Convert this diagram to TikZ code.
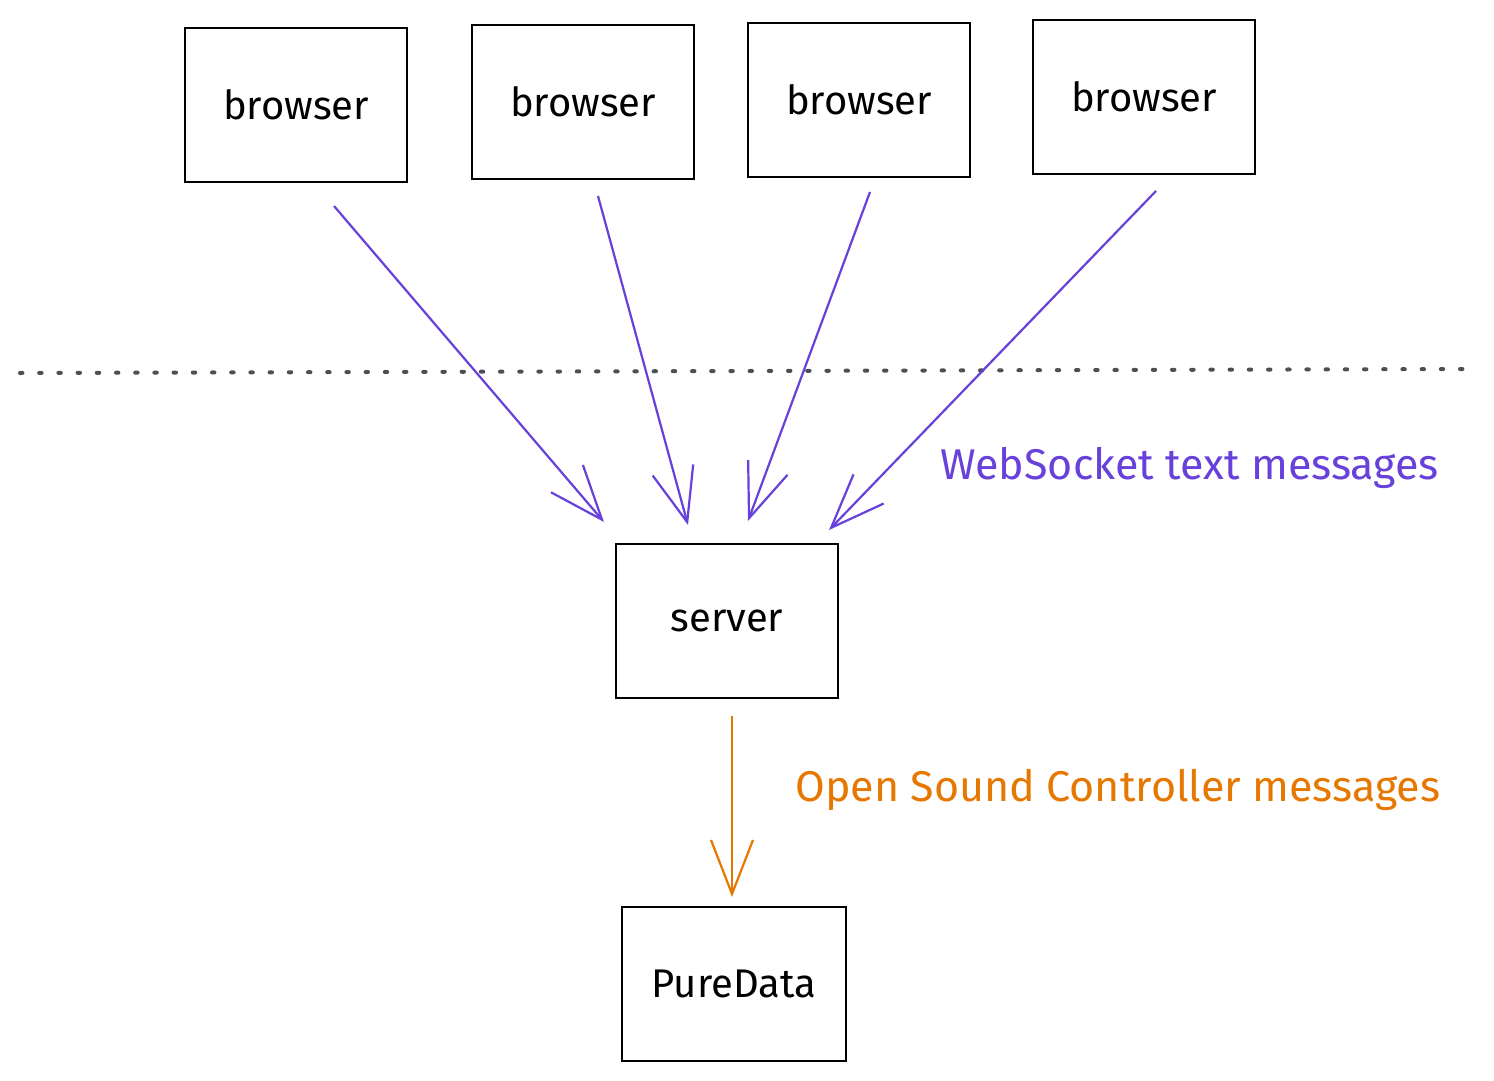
\documentclass[tikz,border=0pt]{standalone}
\usepackage{fontspec}
\setmainfont{Fira Sans}
\usetikzlibrary{arrows.meta}
\definecolor{violetx}{HTML}{6741D9}
\definecolor{orangex}{HTML}{E67700}
\definecolor{grayx}{HTML}{495057}
\begin{document}
\begin{tikzpicture}[x=0.5pt,y=-0.5pt,
  box/.style={draw=black,line width=1.2pt,minimum width=111pt,minimum height=77pt,inner sep=0pt,font=\fontsize{20}{24}\selectfont},
  conn/.style={line width=1.1pt,-{Straight Barb[length=27pt,width=21pt,line width=1.1pt]}},
  lbl/.style={font=\fontsize{21.5}{26}\selectfont,anchor=west,inner sep=0pt}]
\useasboundingbox[fill=white] (0,0) rectangle (1494,1081);
% nodes
\node[box] (b1) at (296,105) {browser};
\node[box] (b2) at (583,102) {browser};
\node[box] (b3) at (859,100) {browser};
\node[box] (b4) at (1144,97) {browser};
\node[box] (srv) at (727,621) {server};
\node[box,minimum width=112pt] (pd) at (734,984) {PureData};
% connector ends
\coordinate (s1) at (334,206);
\coordinate (e1) at (604,522);
\coordinate (s2) at (598,196);
\coordinate (e2) at (688,525);
\coordinate (s3) at (870,192);
\coordinate (e3) at (748,521);
\coordinate (s4) at (1156,191);
\coordinate (e4) at (829,530);
\coordinate (s5) at (732,716);
\coordinate (e5) at (732,897);
\coordinate (d1) at (20,373);
\coordinate (d2) at (1468,369);
% dotted separator
\draw[grayx,line width=2pt,line cap=round,dash pattern=on 1.2pt off 8.4pt] (d1) -- (d2);
% arrows
\draw[conn,violetx] (s1) -- (e1);
\draw[conn,violetx] (s2) -- (e2);
\draw[conn,violetx] (s3) -- (e3);
\draw[conn,violetx] (s4) -- (e4);
\draw[conn,orangex] (s5) -- (e5);
% labels
\node[lbl,text=violetx] (wl) at (940,468) {WebSocket text messages};
\node[lbl,text=orangex] (ol) at (795,790) {Open Sound Controller messages};
\end{tikzpicture}
\end{document}
